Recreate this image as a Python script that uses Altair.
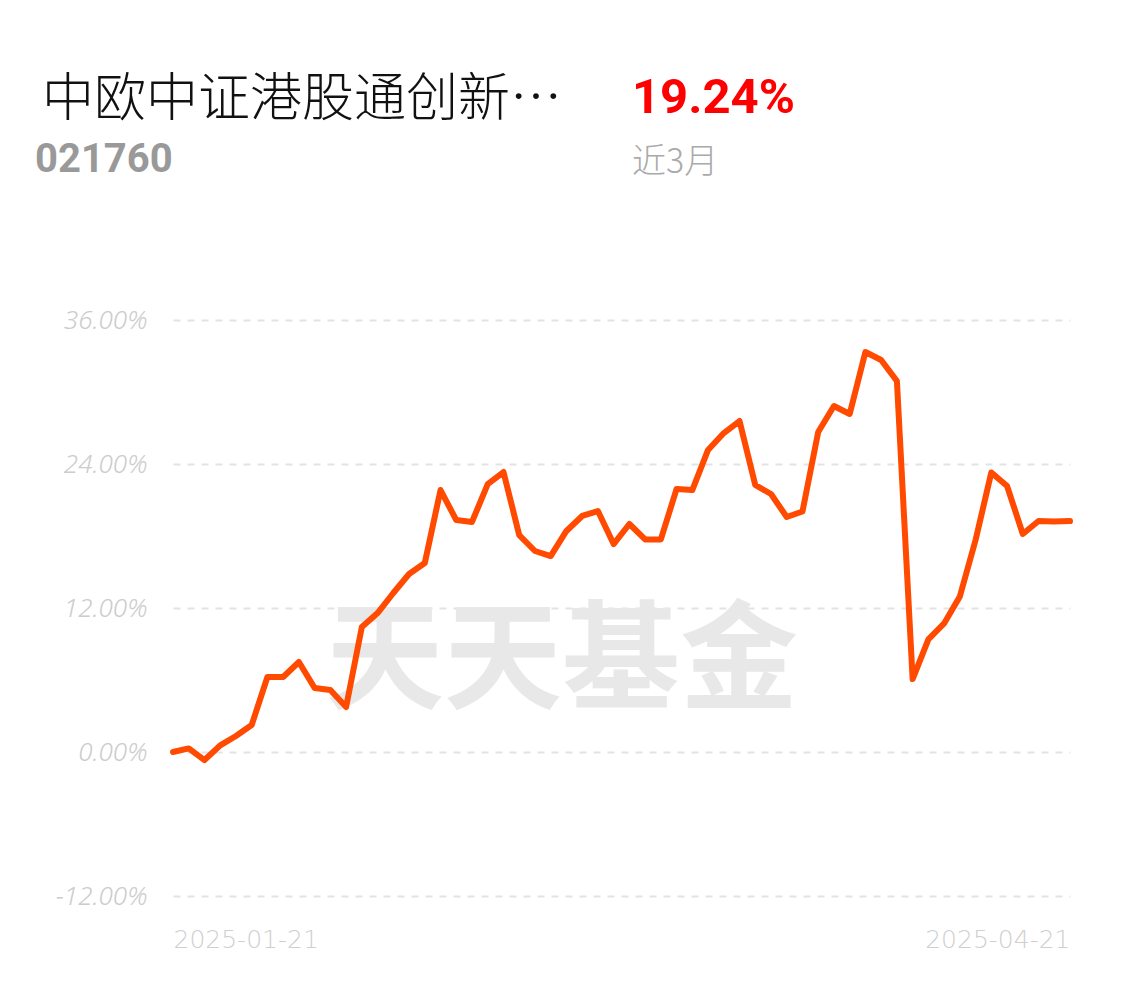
import altair as alt
import pandas as pd

dates = [
    "2025-01-21", "2025-01-22", "2025-01-23", "2025-01-24", "2025-01-27",
    "2025-02-05", "2025-02-06", "2025-02-07",
    "2025-02-10", "2025-02-11", "2025-02-12", "2025-02-13", "2025-02-14",
    "2025-02-17", "2025-02-18", "2025-02-19", "2025-02-20", "2025-02-21",
    "2025-02-24", "2025-02-25", "2025-02-26", "2025-02-27", "2025-02-28",
    "2025-03-03", "2025-03-04", "2025-03-05", "2025-03-06", "2025-03-07",
    "2025-03-10", "2025-03-11", "2025-03-12", "2025-03-13", "2025-03-14",
    "2025-03-17", "2025-03-18", "2025-03-19", "2025-03-20", "2025-03-21",
    "2025-03-24", "2025-03-25", "2025-03-26", "2025-03-27", "2025-03-28",
    "2025-03-31", "2025-04-01", "2025-04-02", "2025-04-03",
    "2025-04-07", "2025-04-08", "2025-04-09", "2025-04-10", "2025-04-11",
    "2025-04-14", "2025-04-15", "2025-04-16", "2025-04-17", "2025-04-18",
    "2025-04-21",
]
returns = [
    0.00, 0.30, -0.67, 0.55, 1.33, 2.25, 6.25, 6.25, 7.50, 5.33,
    5.17, 3.75, 10.42, 11.58, 13.25, 14.83, 15.75, 21.83, 19.33, 19.17,
    22.33, 23.33, 18.08, 16.75, 16.33, 18.42, 19.67, 20.08, 17.33, 19.00,
    17.71, 17.71, 21.92, 21.83, 25.17, 26.58, 27.58, 22.25, 21.50, 19.58,
    20.04, 26.67, 28.83, 28.17, 33.33, 32.67, 30.92, 6.08, 9.38, 10.71,
    12.96, 17.67, 23.29, 22.17, 18.17, 19.25, 19.21, 19.24,
]
y_ticks = [-12, 0, 12, 24, 36]
x_ticks = [dates[0], dates[-1]]

fund_name = "中欧中证港股通创新…"
fund_code = "021760"
headline = "19.24%"
period = "近3月"
watermark = "天天基金"

df = pd.DataFrame({"date": dates, "ret": returns})

x_enc = alt.X(
    "date:O",
    sort=None,
    scale=alt.Scale(type="point", padding=0),
    axis=alt.Axis(
        values=x_ticks,
        title=None,
        labelAngle=0,
        domain=False,
        ticks=False,
        grid=False,
        labelFont="DejaVu Sans",
        labelFontWeight=300,
        labelFontSize=25,
        labelColor="#cfcfcf",
        labelPadding=31,
        labelAlign={"condition": {"test": "datum.value === '2025-01-21'", "value": "left"}, "value": "right"},
    ),
)
y_enc = alt.Y(
    "ret:Q",
    scale=alt.Scale(domain=[-12, 36], nice=False, zero=False),
    axis=alt.Axis(
        values=y_ticks,
        title=None,
        domain=False,
        ticks=False,
        labelExpr="format(datum.value, '.2f') + '%'",
        labelFont="Noto Sans",
        labelFontStyle="italic",
        labelFontWeight=300,
        labelFontSize=26,
        labelColor="#cccccc",
        labelPadding=26,
        grid=True,
        gridColor="#e3e3e3",
        gridDash=[7, 7],
        gridWidth=2,
    ),
)

wm = alt.Chart(pd.DataFrame({"t": [watermark]})).mark_text(
    font="Noto Sans CJK SC", fontWeight="bold", fontSize=118, color="#e8e8e8",
    align="center", baseline="middle",
).encode(text="t:N", x=alt.value(389), y=alt.value(345))

line = alt.Chart(df).mark_line(
    color="#ff4a00", strokeWidth=6, strokeCap="round", strokeJoin="round"
).encode(x=x_enc, y=y_enc)

def label(txt, x, y, **kw):
    return alt.Chart(pd.DataFrame({"t": [txt]})).mark_text(
        align="left", baseline="middle", **kw
    ).encode(text="t:N", x=alt.value(x), y=alt.value(y))

t1 = label(fund_name, -131, -220, font="Noto Sans CJK SC", fontSize=52, fontWeight=300, color="#111111")
t2 = label(fund_code, -138, -160, font="Roboto", fontSize=40, fontWeight="bold", color="#999999")
t3 = label(headline, 459, -222, font="Roboto", fontSize=49, fontWeight="bold", color="#ff0000")
t4 = label(period, 459, -157, font="Noto Sans CJK SC", fontSize=34, fontWeight=300, color="#aaaaaa")

chart = alt.layer(wm, line, t1, t2, t3, t4).properties(
    width=897,
    height=576,
    background="white",
    autosize=alt.AutoSizeParams(type="none"),
    padding={"left": 165, "top": 312, "right": 44, "bottom": 80},
).configure_view(strokeWidth=0, stroke=None)

chart.save("out.html", embed_options={"renderer": "svg", "actions": False})
